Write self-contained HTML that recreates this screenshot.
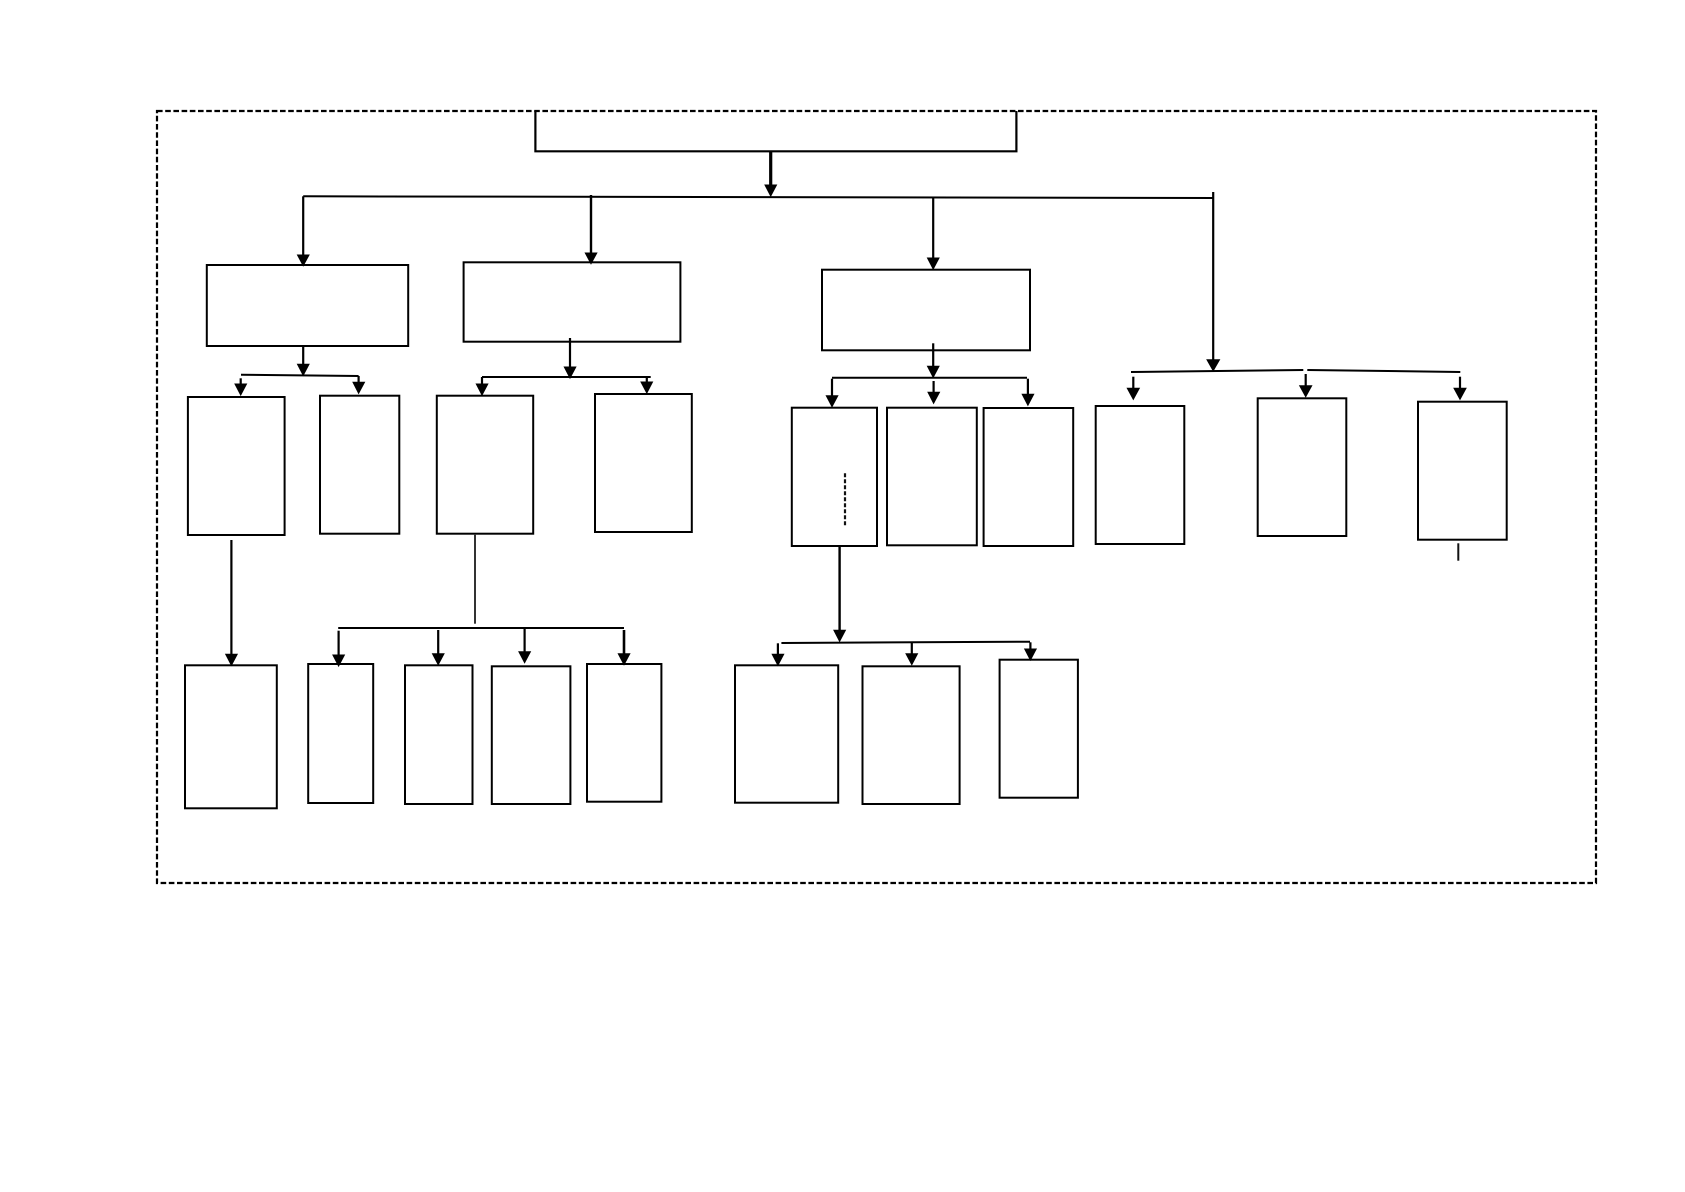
<!DOCTYPE html>
<html>
<head>
<meta charset="utf-8">
<style>
html,body{margin:0;padding:0;background:#fff;width:1685px;height:1192px;overflow:hidden}
svg{display:block}
</style>
</head>
<body>
<svg width="1685" height="1192" viewBox="0 0 1685 1192" xmlns="http://www.w3.org/2000/svg">
<rect width="1685" height="1192" fill="#fff"/>
<!-- dashed frame -->
<rect x="157" y="111" width="1439" height="772" fill="none" stroke="#000" stroke-width="2.2" stroke-dasharray="5.6 2.6"/>
<!-- boxes -->
<g fill="#fff" stroke="#000" stroke-width="2">
<path d="M535.4 111V151.3H1016.4V111" fill="none" stroke-width="2.2"/>
<rect x="206.8" y="265" width="201.4" height="81"/>
<rect x="463.6" y="262.3" width="216.8" height="79.4"/>
<rect x="822" y="269.7" width="208" height="80.6"/>
<rect x="187.9" y="397" width="96.7" height="138"/>
<rect x="320" y="395.7" width="79.3" height="138"/>
<rect x="436.8" y="395.7" width="96.4" height="138"/>
<rect x="595" y="394" width="96.8" height="138"/>
<rect x="791.8" y="407.7" width="85.2" height="138.3"/>
<rect x="887" y="407.7" width="89.8" height="137.6"/>
<rect x="983.6" y="408" width="89.6" height="138"/>
<rect x="1095.7" y="406" width="88.6" height="138"/>
<rect x="1257.7" y="398.3" width="88.6" height="137.7"/>
<rect x="1418" y="401.7" width="88.7" height="138"/>
<rect x="185" y="665.3" width="91.8" height="143"/>
<rect x="308.2" y="664" width="65" height="139"/>
<rect x="405" y="665.3" width="67.5" height="138.7"/>
<rect x="491.8" y="666.3" width="78.6" height="137.7"/>
<rect x="587" y="664" width="74.4" height="137.7"/>
<rect x="735" y="665.3" width="103.2" height="137.4"/>
<rect x="862.5" y="666.3" width="97.1" height="137.7"/>
<rect x="999.6" y="659.7" width="78.3" height="138"/>
</g>
<!-- horizontal bus lines -->
<g fill="none" stroke="#000" stroke-width="2">
<path d="M303.2 196.3L1213.2 198"/>
<path d="M241 374.7L358.6 376"/>
<path d="M482 377H650.7"/>
<path d="M832 377.7H1027"/>
<path d="M1131 372L1303.3 370"/>
<path d="M1307.3 370L1460.3 372"/>
<path d="M338.2 628H624"/>
<path d="M781.4 643L1030 641.7"/>
</g>
<!-- vertical stems -->
<g fill="none" stroke="#000" stroke-width="2.2">
<path d="M770.7 151V186" stroke-width="3.2"/>
<path d="M303.2 196.3V256"/>
<path d="M591 195V254" stroke-width="2.4"/>
<path d="M933.2 197V260"/>
<path d="M1213.2 192V361"/>
<path d="M303.2 346V365"/>
<path d="M240.7 378.3V385"/>
<path d="M358.6 376V384"/>
<path d="M570 338V368"/>
<path d="M482 377V386"/>
<path d="M646.8 376V384"/>
<path d="M933.2 343.3V368"/>
<path d="M832 378.7V397"/>
<path d="M933.6 381V393"/>
<path d="M1027.9 378.7V395"/>
<path d="M1133.3 376.7V389"/>
<path d="M1305.7 374V387"/>
<path d="M1460 376.7V389"/>
<path d="M231.4 540V655"/>
<path d="M338.6 630.7V656"/>
<path d="M438.2 630V655"/>
<path d="M524.6 627.3V653"/>
<path d="M624 630V655" stroke-width="2.6"/>
<path d="M839.6 546V631" stroke-width="2.4"/>
<path d="M777.9 643.3V656"/>
<path d="M911.8 643V655"/>
<path d="M1030.4 642.3V650"/>
</g>
<path d="M475 534V623.7" fill="none" stroke="#333" stroke-width="2"/>
<path d="M1458.3 543.3V560.7" fill="none" stroke="#111" stroke-width="2"/>
<path d="M845 473.3V526.7" fill="none" stroke="#111" stroke-width="2.2" stroke-dasharray="4 2"/>
<!-- arrowheads -->
<g fill="#000" stroke="#000" stroke-width="1" stroke-linejoin="miter">
<path d="M765 185H776.5L770.7 196Z"/>
<path d="M297.5 255H309L303.2 265.7Z"/>
<path d="M585.3 253H596.8L591 263.7Z"/>
<path d="M927.5 258H939L933.2 269Z"/>
<path d="M1207 359.7H1219.5L1213.2 370.7Z"/>
<path d="M297.5 364.3H309L303.2 375.3Z"/>
<path d="M235 384H246.5L240.7 395Z"/>
<path d="M353 382.3H364.5L358.6 393.3Z"/>
<path d="M564.3 367H575.8L570 378Z"/>
<path d="M476.3 384H487.8L482 395Z"/>
<path d="M641 382H652.5L646.8 393Z"/>
<path d="M927.5 366.3H939L933.2 377.3Z"/>
<path d="M826.3 395.7H837.8L832 406.7Z"/>
<path d="M928 392.3H939.5L933.6 403.3Z"/>
<path d="M1022.2 394.3H1033.7L1027.9 405.3Z"/>
<path d="M1127.3 388.3H1139.3L1133.3 399.3Z"/>
<path d="M1299.7 385.7H1311.7L1305.7 396.7Z"/>
<path d="M1454 388.3H1466L1460 399.3Z"/>
<path d="M225.7 654.3H237.2L231.4 665.3Z"/>
<path d="M332.9 655H344.4L338.6 666Z"/>
<path d="M432.5 653.7H444L438.2 664.7Z"/>
<path d="M518.9 651.7H530.4L524.6 662.7Z"/>
<path d="M618.3 653.7H629.8L624 664.7Z"/>
<path d="M833.9 630.3H845.4L839.6 641.3Z"/>
<path d="M772.2 654.3H783.7L777.9 665.3Z"/>
<path d="M906 653.7H917.5L911.8 664.7Z"/>
<path d="M1024.7 649H1036.2L1030.4 660Z"/>
</g>
</svg>
</body>
</html>
